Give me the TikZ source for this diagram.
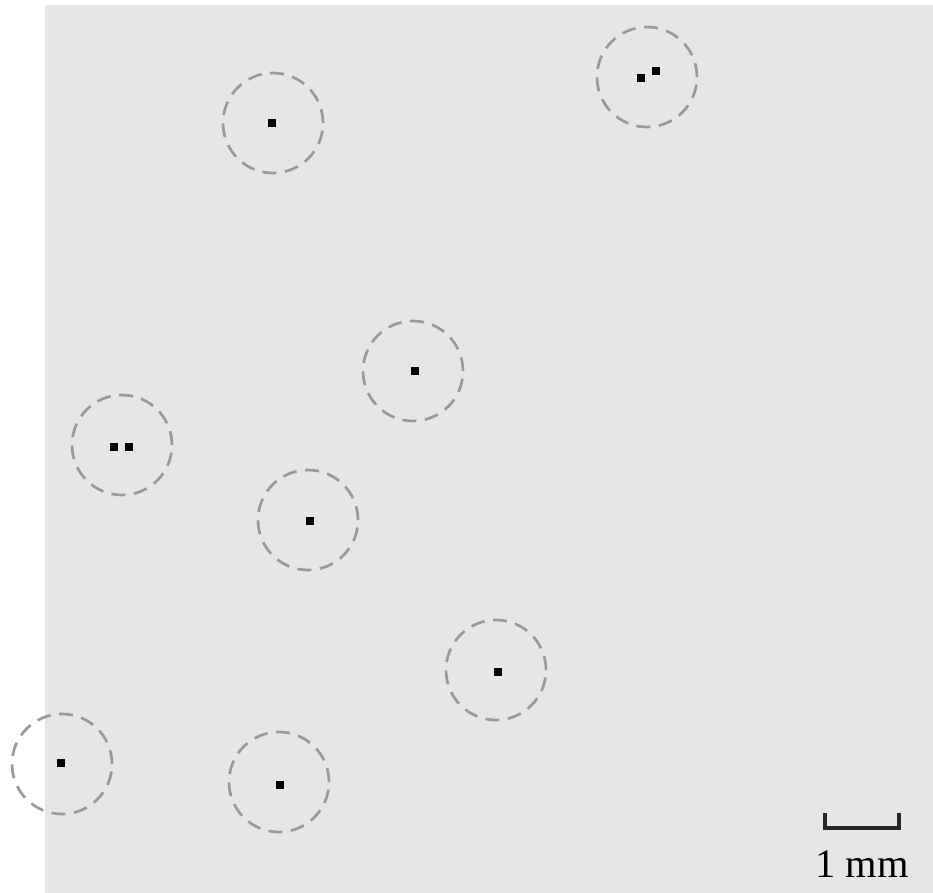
\documentclass[tikz,border=0pt]{standalone}
\usepackage{xcolor}
\usepackage{fontspec}
\setmainfont{Liberation Serif}
\usepackage{tikz}
\usetikzlibrary{
  positioning,
  calc
}
\definecolor{smBack}{HTML}{E6E6E6}
\definecolor{smRing}{HTML}{9A9A9A}
\definecolor{smDot}{HTML}{000000}
\tikzset{
  ring/.style={
    draw=smRing, circle, minimum size=10mm, inner sep=0pt, line width=0.27mm,
    dash pattern=on 1.4mm off 0.85mm
  },
  grain/.style={fill=smDot, minimum size=0.8mm, inner sep=0pt, draw=none},
  scalebar/.style={line width=0.36mm, black!85},
  scaletag/.style={font=\fontsize{11.5}{13}\selectfont, inner sep=0pt}
}

\begin{document}
\begin{tikzpicture}[x=0.1mm, y=-0.1mm]
  \useasboundingbox (0,0) rectangle (933,893);
  \fill[smBack] (45,5) rectangle (933,893);
  % rings and grains
  \node[ring] (r1) at (273,123) {};
  \node[grain] (g1) at (272,123) {};
  \node[ring] (r2) at (647,77) {};
  \node[grain] (g2a) at (641,78) {};
  \node[grain] (g2b) at (656,71) {};
  \node[ring] (r3) at (413,371) {};
  \node[grain] (g3) at (415,371) {};
  \node[ring] (r4) at (122,445) {};
  \node[grain] (g4a) at (114,447) {};
  \node[grain] (g4b) at (129,447) {};
  \node[ring] (r5) at (308,520) {};
  \node[grain] (g5) at (310,521) {};
  \node[ring] (r6) at (496,670) {};
  \node[grain] (g6) at (498,672) {};
  \node[ring] (r7) at (62,764) {};
  \node[grain] (g7) at (61,763) {};
  \node[ring] (r8) at (279,782) {};
  \node[grain] (g8) at (280,785) {};
  % scale bar
  \coordinate (sbl) at (825,813);
  \coordinate (sbr) at (899,813);
  \draw[scalebar] (sbl) -- ++(0,15) -| (sbr);
  \node[scaletag] (sbt) at (862,864) {1 mm};
\end{tikzpicture}
\end{document}
